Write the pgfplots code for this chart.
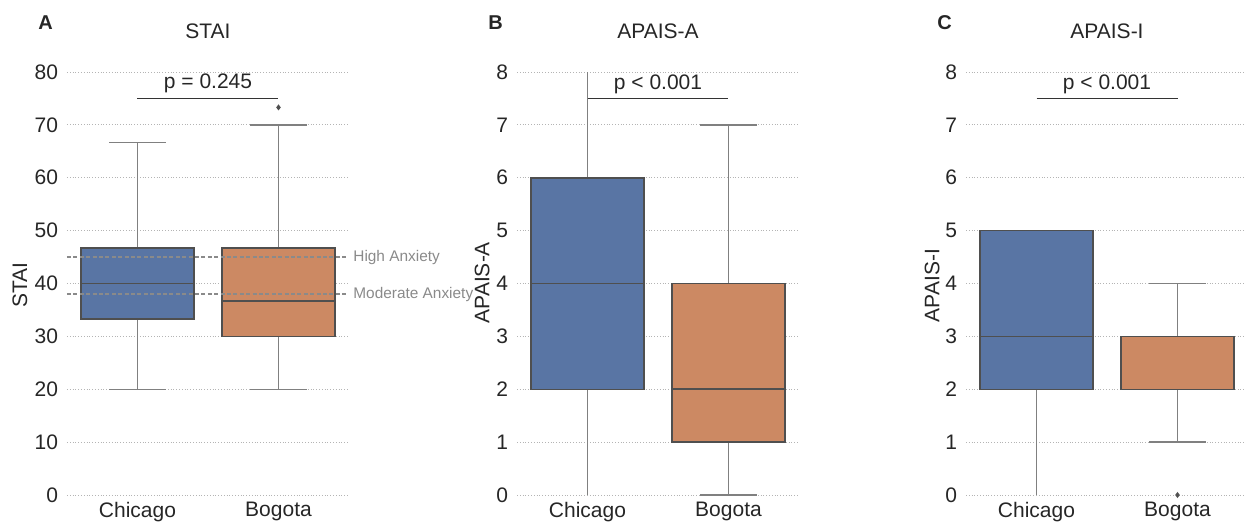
\documentclass[border=0pt]{standalone}
\usepackage{fontspec}
\setmainfont{Liberation Sans}
\usepackage{pgfplots}
\pgfplotsset{compat=1.18}
\usepgfplotslibrary{statistics}
\definecolor{sbblue}{HTML}{5975A4}
\definecolor{sborange}{HTML}{CC8963}
\definecolor{edge}{HTML}{4F4F4F}
\definecolor{whisk}{HTML}{808080}
\definecolor{gridc}{HTML}{B4B4B4}
\definecolor{refc}{HTML}{8A8A8A}
\pgfplotsset{
 panel/.style={
   scale only axis, width=141pt, height=211.5pt, anchor=south west,
   xmin=-0.5, xmax=1.5, xtick={0,1}, xticklabels={Chicago,Bogota},
   axis line style={draw=none}, major tick length=0pt,
   ymajorgrids, grid style={gridc, densely dotted, line width=0.4pt},
   tick label style={font=\fontsize{10.5}{12}\selectfont, text=black!85},
   /pgf/number format/assume math mode=true,
   yticklabel style={xshift=-1pt},
   title style={at={(axis description cs:0.5,1)}, anchor=base, yshift=11pt, font=\fontsize{10.5}{12}\selectfont, text=black!85},
   label style={font=\fontsize{10.5}{12}\selectfont, text=black!85},
   clip mode=individual,
   boxplot/draw direction=y,
   boxplot/box extend=0.8, boxplot/whisker extend=0.4,
   boxplot/every box/.style={draw=edge, line width=0.75pt},
   boxplot/every whisker/.style={draw=whisk, line width=0.75pt},
   boxplot/every median/.style={draw=edge, line width=0.8pt},
 },
}
\tikzset{
 plabel/.style={anchor=base west, inner sep=0pt, font=\bfseries\fontsize{10}{12}\selectfont, text=black!85, xshift=-14.5pt, yshift=21.5pt},
 pval/.style={anchor=base, inner sep=0pt, font=\fontsize{10.5}{12}\selectfont, text=black!85},
}
\begin{document}
\begin{tikzpicture}
\path[use as bounding box] (0,0) rectangle (622pt,260.5pt);

% Panel A
\begin{axis}[panel, at={(33.5pt,13pt)}, ymin=0, ymax=80, ytick={0,10,...,80},
  title={STAI}, ylabel={STAI},
  ylabel style={at={(axis description cs:-0.167,0.496)}, anchor=center}]
\addplot[fill=sbblue, draw=edge, boxplot prepared={lower whisker=20, lower quartile=33.3, median=40, upper quartile=46.7, upper whisker=66.7, draw position=0}] coordinates {};
\addplot[fill=sborange, draw=edge, boxplot prepared={lower whisker=20, lower quartile=30, median=36.7, upper quartile=46.7, upper whisker=70, draw position=1}] coordinates {};
\addplot[only marks, mark=diamond*, mark size=1.2pt, color=edge] coordinates {(1,73.3)};
\draw[refc, line width=0.6pt, dash pattern=on 2pt off 1.2pt] (axis cs:-0.5,45) -- (axis cs:1.49,45);
\draw[refc, line width=0.6pt, dash pattern=on 2pt off 1.2pt] (axis cs:-0.5,38) -- (axis cs:1.49,38);
\node[anchor=west, inner sep=0pt, text=refc, font=\fontsize{7.7}{9}\selectfont, xshift=2pt] at (axis cs:1.5,45) {High Anxiety};
\node[anchor=west, inner sep=0pt, text=refc, font=\fontsize{7.7}{9}\selectfont, xshift=2pt] at (axis cs:1.5,38) {Moderate Anxiety};
\draw[black!80, line width=0.75pt] (axis cs:0,75) -- (axis cs:1,75);
\node[pval] at (axis cs:0.5,76.8) {p = 0.245};
\node[plabel] at (rel axis cs:0,1) {A};
\end{axis}

% Panel B
\begin{axis}[panel, at={(258.5pt,13pt)}, ymin=0, ymax=8, ytick={0,1,...,8},
  title={APAIS-A}, ylabel={APAIS-A},
  ylabel style={at={(axis description cs:-0.124,0.502)}, anchor=center}]
\addplot[fill=sbblue, draw=edge, boxplot/whisker extend=0, boxplot prepared={lower whisker=0, lower quartile=2, median=4, upper quartile=6, upper whisker=8, draw position=0}] coordinates {};
\addplot[fill=sborange, draw=edge, boxplot prepared={lower whisker=0, lower quartile=1, median=2, upper quartile=4, upper whisker=7, draw position=1}] coordinates {};
\draw[black!80, line width=0.75pt] (axis cs:0,7.5) -- (axis cs:1,7.5);
\node[pval] at (axis cs:0.5,7.66) {p < 0.001};
\node[plabel] at (rel axis cs:0,1) {B};
\end{axis}

% Panel C
\begin{axis}[panel, at={(483pt,13pt)}, ymin=0, ymax=8, ytick={0,1,...,8},
  title={APAIS-I}, ylabel={APAIS-I},
  ylabel style={at={(axis description cs:-0.12,0.495)}, anchor=center}]
\addplot[fill=sbblue, draw=edge, boxplot/whisker extend=0, boxplot prepared={lower whisker=0, lower quartile=2, median=3, upper quartile=5, upper whisker=5, draw position=0}] coordinates {};
\addplot[fill=sborange, draw=edge, boxplot prepared={lower whisker=1, lower quartile=2, median=3, upper quartile=3, upper whisker=4, draw position=1}] coordinates {};
\addplot[only marks, mark=diamond*, mark size=1.2pt, color=edge] coordinates {(1,0)};
\draw[black!80, line width=0.75pt] (axis cs:0,7.5) -- (axis cs:1,7.5);
\node[pval] at (axis cs:0.5,7.66) {p < 0.001};
\node[plabel] at (rel axis cs:0,1) {C};
\end{axis}
\end{tikzpicture}
\end{document}
